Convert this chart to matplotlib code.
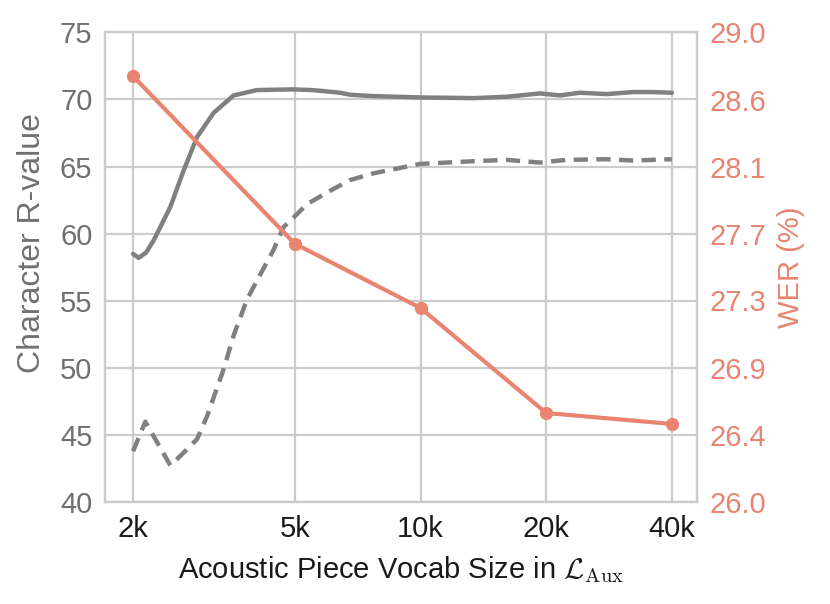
import matplotlib
matplotlib.use("Agg")
import matplotlib.pyplot as plt
from matplotlib.ticker import FixedLocator, FixedFormatter, NullLocator

plt.rcParams['font.family'] = ['Liberation Sans', 'DejaVu Sans']
plt.rcParams['mathtext.fontset'] = 'cm'

# Data
tick_values = [2048, 5000, 10000, 20000, 40000]
tick_labels = ["2k", "5k", "10k", "20k", "40k"]

solid_x = [2048, 2112, 2200, 2294, 2515, 2706, 2914, 3193, 3565, 4055, 4962, 5500,
           6418, 6781, 7711, 10000, 13377, 16081, 19321, 21570, 24085, 27900,
           32300, 36050, 40000]
solid_y = [58.5, 58.2, 58.6, 59.5, 62.0, 64.7, 67.2, 69.0, 70.3, 70.7, 70.75, 70.7,
           70.5, 70.35, 70.25, 70.15, 70.1, 70.2, 70.45, 70.3, 70.5, 70.4,
           70.55, 70.55, 70.5]

dashed_x = [2048, 2191, 2515, 2658, 2914, 3079, 3374, 3565, 3838, 4055, 4445, 4696,
            4962, 5342, 6073, 6781, 7711, 9974, 13377, 16081, 19321, 22380,
            27900, 32300, 40000]
dashed_y = [43.8, 46.0, 42.75, 43.45, 44.7, 46.4, 49.9, 52.4, 55.1, 56.5, 58.8, 60.5,
            61.2, 62.2, 63.2, 64.0, 64.5, 65.2, 65.4, 65.5, 65.3, 65.5,
            65.55, 65.45, 65.55]

wer_x = [2048, 5000, 10000, 20000, 40000]
wer_y = [28.72, 27.65, 27.24, 26.57, 26.50]

left_ticks = [40, 45, 50, 55, 60, 65, 70, 75]
right_ticks = [26.0, 26.43, 26.86, 27.29, 27.71, 28.14, 28.57, 29.0]

gray = '#808080'
salmon = '#E8846F'
gridc = '#cccccc'
FS = 21

fig = plt.figure(figsize=(8.3, 6.04), dpi=100)
ax = fig.add_axes([0.1265, 0.1684, 0.8395 - 0.1265, 0.9465 - 0.1684])
ax.set_xscale('log')
ax.set_xlim(1754, 45900)
ax.set_ylim(40, 75)

ax.plot(solid_x, solid_y, color=gray, lw=3.2, solid_joinstyle='round', solid_capstyle='round', zorder=3)
ax.plot(dashed_x, dashed_y, color=gray, lw=3.2, linestyle=(0, (3.2, 1.9)), zorder=3)

ax.xaxis.set_major_locator(FixedLocator(tick_values))
ax.xaxis.set_major_formatter(FixedFormatter(tick_labels))
ax.xaxis.set_minor_locator(NullLocator())
ax.set_yticks(left_ticks)
ax.grid(True, color=gridc, lw=1.6, zorder=0)
ax.set_axisbelow(True)

ax.tick_params(axis='both', length=0, labelsize=FS, pad=9)
ax.tick_params(axis='y', colors='#707070')
ax.tick_params(axis='x', colors='#1a1a1a')
for s in ax.spines.values():
    s.set_color(gridc)
    s.set_linewidth(1.6)

ax.set_xlabel(r'Acoustic Piece Vocab Size in $\mathcal{L}_{\mathrm{Aux}}$', fontsize=FS, color='#1a1a1a', labelpad=8)
ax.set_ylabel('Character R-value', fontsize=23, color='#707070')
ax.yaxis.set_label_coords(-0.098, 0.551)

ax2 = ax.twinx()
ax2.set_ylim(26, 29)
ax2.plot(wer_x, wer_y, color=salmon, lw=3, marker='o', markersize=8.5, zorder=4)
ax2.set_yticks(right_ticks)
ax2.set_yticklabels([f"{v:.1f}" for v in right_ticks])
ax2.tick_params(axis='y', length=0, labelsize=FS, pad=9, colors=salmon)
ax2.set_ylabel('WER (%)', fontsize=FS, color=salmon, labelpad=8)
for s in ax2.spines.values():
    s.set_color(gridc)
    s.set_linewidth(1.6)
ax2.grid(False)

fig.savefig('out.png', dpi=100)
